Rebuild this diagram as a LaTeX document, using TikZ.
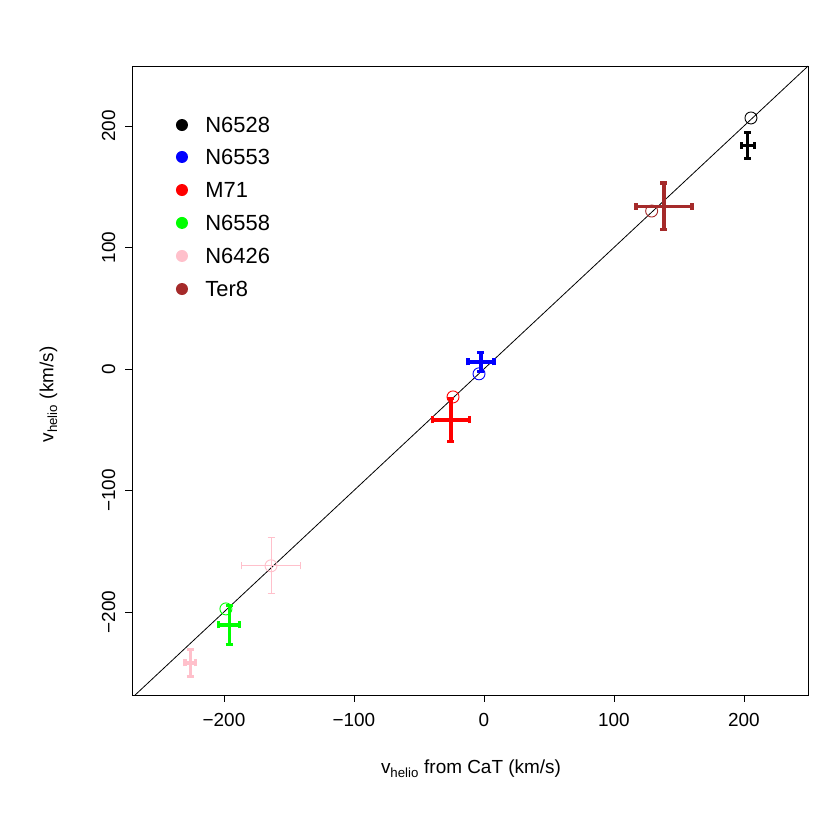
\documentclass[tikz,border=0pt]{standalone}
\usepackage{fontspec}
\setmainfont{Liberation Sans}
\definecolor{rbrown}{HTML}{A52A2A}
\definecolor{rpink}{HTML}{FFC0CB}
\definecolor{rgreen}{HTML}{00FF00}
\newcommand\eb[6]{%
\draw[#5,line width=#6] (#1-#3,#2) -- (#1+#3,#2) (#1,#2-#4) -- (#1,#2+#4)
 (#1-#3,#2) ++(0,-3.5bp) -- ++(0,7bp) (#1+#3,#2) ++(0,-3.5bp) -- ++(0,7bp)
 (#1,#2-#4) ++(-3.5bp,0) -- ++(7bp,0) (#1,#2+#4) ++(-3.5bp,0) -- ++(7bp,0);}
\newcommand\oc[3]{\draw[#3,line width=0.9bp] (#1,#2) circle[radius=6bp];}
\begin{document}
\begin{tikzpicture}[x=1.3bp,y=1.215bp,font=\fontsize{19}{22}\selectfont,
 tick/.style={line width=0.7bp}]
\useasboundingbox[fill=white] (-372.3,-379.4) rectangle (266.2,303.7);
\begin{scope}
\clip (-270.8,-268.3) rectangle (249.2,249.4);
\draw[line width=0.8bp] (-280,-280) -- (260,260);
\end{scope}
\draw[line width=0.8bp] (-270.8,-268.3) rectangle (249.2,249.4);
\foreach \v in {-200,-100,0,100,200}{
 \draw[tick] (\v,-268.3) -- ++(0,-7bp);
 \node[anchor=north] at (\v,-268.3-12) {\ifnum\v<0 −\number-\v\else\v\fi};
 \draw[tick] (-270.8,\v) -- ++(-7bp,0);
 \node[rotate=90,anchor=south] at (-270.8-10,\v) {\ifnum\v<0 −\number-\v\else\v\fi};
}
\node at (-10,-329) {v\textsubscript{helio} from CaT (km/s)};
\node[rotate=90] at (-335,-21) {v\textsubscript{helio} (km/s)};
% data
\oc{205.4}{206.6}{black}\eb{203}{184}{5}{10.7}{black}{3.2bp}
\oc{-3.8}{-4}{blue}\eb{-2.3}{5.8}{10}{8}{blue}{3.2bp}
\oc{-23.8}{-23}{red}\eb{-25.4}{-42}{14}{18}{red}{3.2bp}
\oc{-198.5}{-197.5}{rgreen}\eb{-196}{-210.7}{8}{16}{rgreen}{3.2bp}
\oc{-163.8}{-162}{rpink}\eb{-163.8}{-162}{23}{23}{rpink}{1bp}
\eb{-226}{-242}{4}{11}{rpink}{3.2bp}
\oc{129}{130}{rbrown}\eb{138.5}{134}{21.5}{19}{rbrown}{3.2bp}
% legend
\foreach \c/\t/\y in {black/N6528/200.8,blue/N6553/174.5,red/M71/147.3,rgreen/N6558/120.2,rpink/N6426/93,rbrown/Ter8/65.8}{
 \fill[\c] (-232.3,\y) circle[radius=6bp];
 \node[anchor=west,font=\fontsize{22}{26}\selectfont] at (-217,\y) {\t};
}
\end{tikzpicture}
\end{document}
